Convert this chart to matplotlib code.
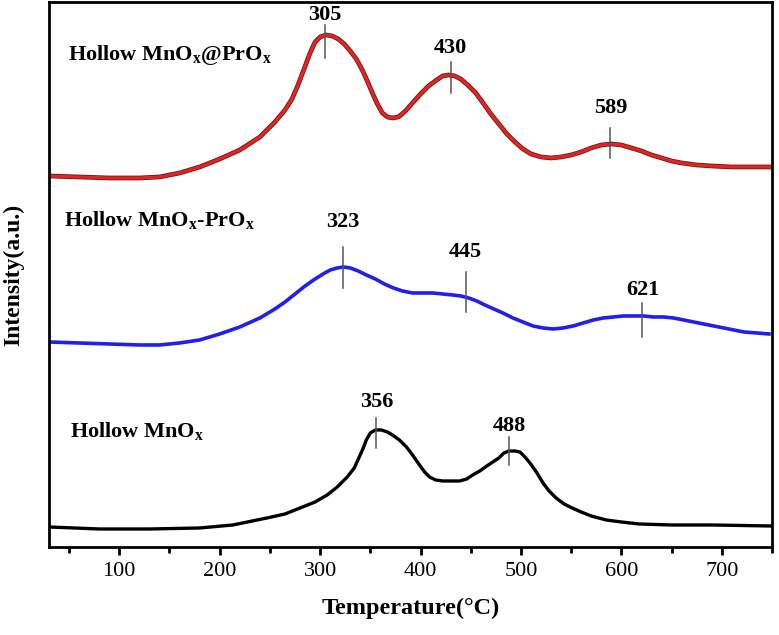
import matplotlib
matplotlib.use("Agg")
import matplotlib.pyplot as plt
import matplotlib.patheffects as pe
from matplotlib.ticker import MultipleLocator

plt.rcParams['font.family'] = ['Liberation Serif', 'DejaVu Serif']
plt.rcParams['mathtext.fontset'] = 'custom'
plt.rcParams['mathtext.rm'] = 'Liberation Serif:bold'
plt.rcParams['mathtext.bf'] = 'Liberation Serif:bold'
plt.rcParams['mathtext.it'] = 'Liberation Serif:bold'
plt.rcParams['mathtext.default'] = 'bf'

# ---- data (temperature in °C, intensity in arbitrary units incl. offsets) ----
red_T = [30, 60, 90, 120, 140, 160, 180, 200, 220, 240, 255, 265, 272, 278, 284, 290,
         295, 300, 306, 312, 318, 324, 330, 336, 342, 347, 352, 357, 362, 367, 372, 378,
         385, 392, 400, 408, 416, 422, 428, 434, 440, 447, 455, 463, 470, 478, 486, 494,
         502, 510, 520, 530, 540, 550, 560, 570, 580, 590, 600, 610, 620, 630, 640, 650,
         660, 675, 690, 710, 749]
red_I = [371, 370, 369, 369, 370, 374, 380, 388, 397, 410, 425, 437, 448, 462, 478, 494,
         505, 510, 512, 511, 508, 503, 496, 488, 477, 466, 454, 443, 434, 430, 429, 430,
         436, 444, 453, 461, 467, 471, 472, 471, 468, 462, 454, 443, 433, 423, 413, 405,
         398, 393, 390, 389, 390, 392, 395, 399, 402, 403, 402, 399, 396, 392, 389, 386,
         384, 382, 381, 380, 380]

blue_T = [30, 60, 90, 120, 140, 160, 180, 200, 220, 240, 255, 265, 275, 285, 295, 303,
          310, 317, 323, 330, 338, 346, 355, 364, 373, 382, 392, 402, 412, 422, 432, 440,
          448, 456, 464, 473, 482, 492, 502, 512, 522, 532, 542, 552, 562, 572, 582, 592,
          602, 612, 622, 632, 642, 652, 662, 672, 682, 692, 702, 712, 722, 735, 747]
blue_I = [205, 204, 203, 202, 202, 204, 207, 213, 220, 229, 238, 245, 253, 261, 268, 273,
          277, 279, 280, 279, 276, 272, 268, 263, 259, 256, 254, 254, 254, 253, 252, 251,
          249, 246, 242, 238, 234, 229, 225, 221, 219, 218, 219, 221, 224, 227, 229, 230,
          231, 231, 231, 230, 230, 229, 227, 225, 223, 221, 219, 217, 215, 214, 213]

black_T = [30, 80, 130, 180, 213, 247, 265, 280, 295, 307, 317, 327, 334, 339, 343, 346,
           350, 355, 361, 367, 372, 379, 386, 392, 399, 404, 409, 415, 422, 430, 439, 446,
           452, 459, 466, 472, 478, 483, 488, 494, 499, 504, 509, 516, 522, 528, 535, 543,
           551, 560, 570, 585, 600, 618, 650, 691, 749]
black_I = [20, 18, 18, 19, 22, 29, 33, 39, 45, 52, 60, 70, 79, 90, 99, 107,
           114, 117, 117, 115, 112, 107, 100, 92, 82, 75, 70, 67, 66, 66, 66, 68,
           72, 76, 81, 85, 89, 94, 96, 96, 95, 90, 84, 74, 64, 56, 49, 43,
           39, 35, 31, 27, 25, 23, 22, 22, 21]

series_names = ["Hollow MnO$_x$@PrO$_x$", "Hollow MnO$_x$-PrO$_x$", "Hollow MnO$_x$"]

# peak annotations
red_peaks = [305, 430, 589]
red_mark_lo = [489, 454, 389]
red_mark_hi = [522, 485, 419]
red_label_y = [532, 499, 439]

blue_peaks = [323, 445, 621]
blue_mark_lo = [259, 235, 210]
blue_mark_hi = [300, 275, 244]
blue_label_y = [325, 295, 257]

black_peaks = [356, 488]
black_mark_lo = [99, 82]
black_mark_hi = [129, 110]
black_label_y = [145, 121]

fig = plt.figure(figsize=(7.79, 6.35), dpi=100)
ax = fig.add_axes([0.0629, 0.1386, 0.9281, 0.8583])

ax.plot(red_T, red_I, color='#e52421', lw=2.2, solid_joinstyle='round',
        path_effects=[pe.Stroke(linewidth=3.4, foreground='#6a1a1a'), pe.Normal()])
ax.plot(blue_T, blue_I, color='#1f1fee', lw=2.6, solid_joinstyle='round')
ax.plot(black_T, black_I, color='black', lw=2.4, solid_joinstyle='round')

mark_color = '#555555'
for peaks, lo, hi, ly in [(red_peaks, red_mark_lo, red_mark_hi, red_label_y),
                          (blue_peaks, blue_mark_lo, blue_mark_hi, blue_label_y),
                          (black_peaks, black_mark_lo, black_mark_hi, black_label_y)]:
    for p, a, b, y in zip(peaks, lo, hi, ly):
        ax.plot([p, p], [a, b], color=mark_color, lw=1.1)
        ax.text(p, y, str(p), ha='center', va='center', fontsize=16, fontweight='bold')

name_x = [49, 45, 51]
name_y = [487, 321, 110]
for n, x, y in zip(series_names, name_x, name_y):
    ax.text(x, y, n, ha='left', va='baseline', fontsize=16, fontweight='bold')

ax.set_xlim(30, 750)
ax.set_ylim(0, 545)
ax.xaxis.set_minor_locator(MultipleLocator(50))
ax.set_xticks([100, 200, 300, 400, 500, 600, 700])
ax.set_yticks([])
ax.tick_params(axis='x', which='major', direction='out', length=6, width=2, labelsize=16, pad=5)
ax.tick_params(axis='x', which='minor', direction='out', length=4, width=2)
for s in ax.spines.values():
    s.set_linewidth(2)

ax.set_xlabel('Temperature(°C)', fontsize=17.5, fontweight='bold', labelpad=12)
ax.set_ylabel('Intensity(a.u.)', fontsize=17, fontweight='bold', labelpad=18)

fig.savefig('out.png', dpi=100)
